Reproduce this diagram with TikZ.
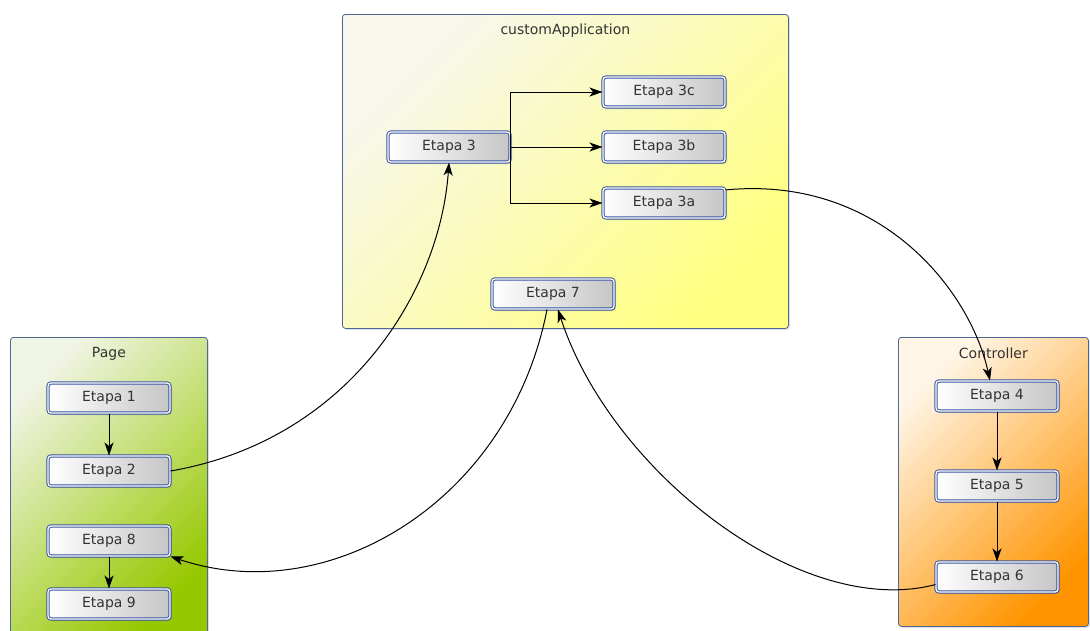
\documentclass[tikz,border=0pt]{standalone}
\usepackage{fontspec}
\setmainfont{DejaVu Sans}
\usetikzlibrary{positioning, arrows.meta, shadows}
\definecolor{frameblue}{RGB}{78,104,150}
\definecolor{stepblue}{RGB}{58,86,160}
\definecolor{txtgray}{RGB}{51,51,51}
\tikzset{
>={Stealth[length=13pt, width=9pt, inset=3.5pt]}, % bold arrow heads
flow/.style={->, line width=1pt, black}, % connectors between the steps
every node/.style={font=\fontsize{14}{16}\selectfont, text=txtgray},
stepbox/.style={draw=stepblue, double=white, double distance=1.3pt, line width=1pt,
  rounded corners=3pt, left color=white, right color=gray!45,
  minimum width=122pt, minimum height=30pt, inner sep=0pt,
  drop shadow={shadow xshift=2pt, shadow yshift=-2pt, opacity=0.3}}, % one step
container/.style={draw=frameblue, line width=0.8pt, rounded corners=3pt, inner sep=0pt,
  drop shadow={shadow xshift=1.5pt, shadow yshift=-1.5pt, opacity=0.25}}, % a group of steps
appfill/.style={top color={rgb,255:red,247;green,247;blue,238}, bottom color={rgb,255:red,255;green,255;blue,130}, shading angle=45},
pagefill/.style={top color={rgb,255:red,240;green,244;blue,226}, bottom color={rgb,255:red,150;green,200;blue,0}, shading angle=45},
ctrlfill/.style={top color={rgb,255:red,255;green,246;blue,232}, bottom color={rgb,255:red,255;green,148;blue,0}, shading angle=45},
title/.style={inner sep=0pt}, % caption of a group
}
\begin{document}
\begin{tikzpicture}[x=1pt, y=1pt]
\useasboundingbox (0,0) rectangle (1090,-630);
% groups
\node[container, appfill, minimum width=446pt, minimum height=314pt, anchor=north west] (app) at (342,-14) {};
\node[title] (appt) at ([yshift=-17pt]app.north) {customApplication};
\node[container, pagefill, minimum width=197pt, minimum height=300pt, anchor=north west] (page) at (10,-337) {};
\node[title] (paget) at ([yshift=-17pt]page.north) {Page};
\node[container, ctrlfill, minimum width=190pt, minimum height=289pt, anchor=north west] (ctrl) at (898,-337) {};
\node[title] (ctrlt) at ([yshift=-16pt]ctrl.north) {Controller};
% steps
\node[stepbox] (e3) at (449,-147) {Etapa 3};
\node[stepbox] (e3b) at (664,-147) {Etapa 3b};
\node[stepbox, above=24pt of e3b] (e3c) {Etapa 3c};
\node[stepbox, below=25pt of e3b] (e3a) {Etapa 3a};
\node[stepbox] (e7) at (553,-294) {Etapa 7};
\node[stepbox] (e1) at (109,-398) {Etapa 1};
\node[stepbox, below=42pt of e1] (e2) {Etapa 2};
\node[stepbox] (e8) at (109,-541) {Etapa 8};
\node[stepbox, below=32pt of e8] (e9) {Etapa 9};
\node[stepbox] (e4) at (997,-396) {Etapa 4};
\node[stepbox, below=59pt of e4] (e5) {Etapa 5};
\node[stepbox, below=60pt of e5] (e6) {Etapa 6};
% connectors
\draw[flow] (e1) -- (e2);
\draw[flow] (e8) -- (e9);
\draw[flow] (e4) -- (e5);
\draw[flow] (e5) -- (e6);
\draw[flow] (e3.east) |- (e3c);
\draw[flow] (e3) -- (e3b);
\draw[flow] (e3.east) |- (e3a);
\draw[flow] (e2.east) .. controls (350,-440) and (440,-290) .. (e3.south);
\draw[flow] (e3a.12) .. controls (880,-175) and (970,-290) .. ([xshift=-7pt]e4.north);
\draw[flow] (e6.187) .. controls (800,-620) and (610,-470) .. ([xshift=5pt]e7.south);
\draw[flow] ([xshift=-6pt]e7.south) .. controls (510,-500) and (330,-610) .. (e8.south east);
\end{tikzpicture}
\end{document}
